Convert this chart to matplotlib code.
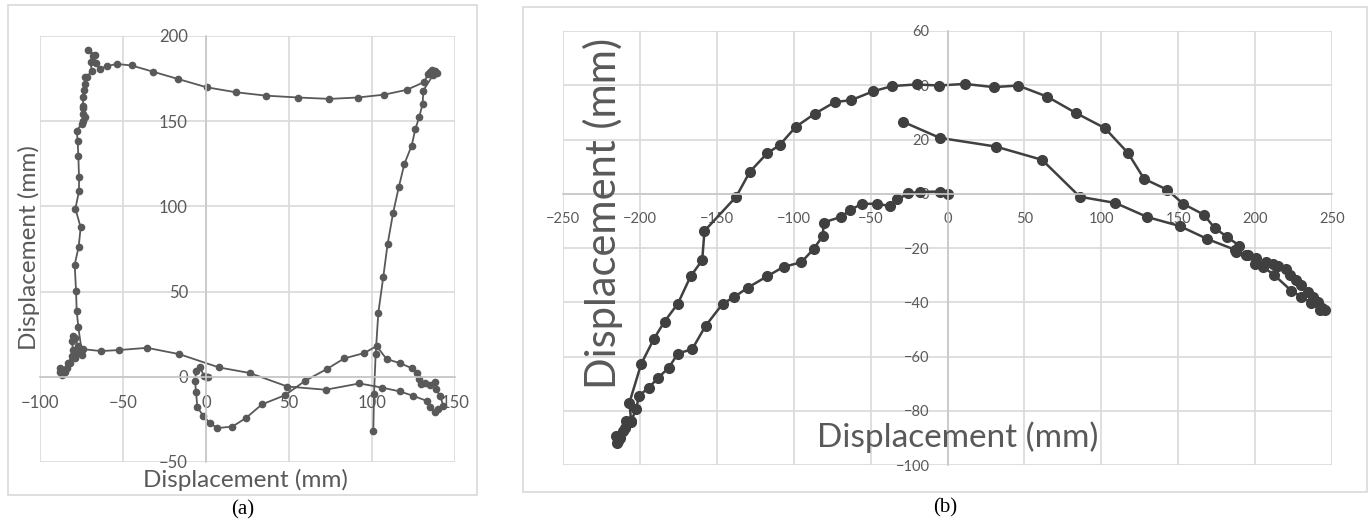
import matplotlib
matplotlib.use("Agg")
import matplotlib.pyplot as plt
from matplotlib.patches import Rectangle

# (a) left panel trajectory
a_x = [1.4, 0.4, -1.2, -3.6, -6.0, -6.6, -6.0, -5.2, -1.6, 2.4, 6.8, 15.9, 23.9, 33.7, 47.6,
       59.8, 72.7, 83.3, 95.2, 102.8, 108.8, 116.9, 124.3, 127.3, 128.5, 129.3, 131.9, 134.9,
       138.0, 138.6, 141.0, 143.0, 140.0, 138.0, 134.9, 132.9, 124.9, 116.9, 105.8, 92.4,
       72.1, 49.0, 26.5, 7.8, -16.1, -35.5, -52.4, -63.3, -73.9, -75.0, -77.0, -79.0, -80.0,
       -81.0, -80.0, -81.0, -83.0, -84.0, -86.0, -88.0, -88.0, -87.0, -85.0, -82.0, -79.0,
       -77.0, -75.0, -76.9, -77.9, -78.3, -79.1, -76.7, -75.5, -78.7, -76.5, -76.5, -76.9,
       -77.3, -77.9, -74.9, -74.3, -72.9, -73.9, -74.3, -73.9, -74.3, -73.5, -72.9, -72.9,
       -71.5, -68.9, -69.5, -66.9, -71.3, -67.9, -66.3, -63.9, -59.8, -53.8, -44.8, -32.1,
       -17.1, 0.4, 17.9, 36.1, 55.6, 74.3, 91.4, 107.4, 120.9, 131.3, 133.9, 134.9, 136.0,
       138.0, 139.0, 137.0, 130.9, 130.5, 128.5, 126.1, 123.9, 119.5, 116.1, 112.7, 109.4,
       106.8, 103.8, 102.2, 101.2, 100.8]
a_y = [-0.4, 0.0, 0.6, 5.5, 3.5, -2.3, -9.2, -18.0, -22.9, -27.2, -30.1, -29.2, -24.3, -16.2,
       -10.8, -2.3, 4.5, 10.8, 13.9, 18.0, 10.4, 8.0, 4.9, 2.0, -1.4, -4.3, -3.9, -4.7, -3.3,
       -7.2, -11.2, -17.0, -19.0, -20.9, -18.0, -14.1, -11.2, -8.6, -6.3, -3.9, -7.6, -5.7,
       2.2, 5.5, 13.3, 17.0, 15.7, 15.1, 16.2, 13.0, 18.0, 23.0, 24.0, 21.0, 16.0, 12.0, 8.0,
       5.0, 4.0, 3.0, 5.0, 1.0, 3.0, 8.0, 11.0, 14.0, 16.0, 29.0, 38.8, 50.5, 65.8, 76.4,
       87.7, 98.7, 108.8, 117.1, 129.4, 138.4, 144.5, 148.4, 150.4, 152.3, 154.3, 157.8,
       159.2, 164.1, 168.4, 171.9, 175.8, 176.2, 179.7, 184.6, 189.1, 191.9, 188.5, 184.0,
       180.7, 182.3, 183.6, 182.7, 179.1, 174.8, 169.9, 167.0, 165.0, 163.9, 163.1, 163.9,
       165.6, 168.4, 172.9, 177.8, 178.7, 180.1, 179.7, 178.3, 177.4, 168.0, 160.1, 152.7,
       145.3, 135.7, 124.9, 111.2, 96.1, 77.9, 58.7, 37.4, 13.3, -10.2, -32.1]

# (b) right panel trajectory
b_x = [0.0, -5.0, -17.6, -25.4, -32.7, -37.7, -45.8, -55.6, -63.3, -69.1, -80.6, -81.0,
       -87.1, -95.1, -106.4, -117.5, -129.8, -138.5, -146.1, -157.3, -166.0, -175.3, -181.2,
       -188.4, -194.2, -200.7, -202.4, -206.0, -211.3, -214.1, -215.0, -214.4, -213.0,
       -215.4, -210.0, -209.0, -205.7, -206.8, -199.2, -191.0, -184.0, -175.3, -167.1,
       -159.5, -158.0, -137.4, -128.5, -117.3, -109.2, -98.6, -86.3, -73.2, -62.7, -48.2,
       -35.9, -20.1, -5.4, 11.3, 30.1, 45.9, 64.8, 83.4, 102.3, 117.4, 127.8, 142.8, 153.2,
       166.6, 173.7, 182.0, 189.6, 187.4, 195.4, 200.8, 199.7, 206.9, 211.7, 214.9, 219.9,
       222.5, 226.8, 230.1, 234.4, 237.7, 240.9, 243.7, 245.2, 242.0, 236.6, 230.1, 223.6,
       212.1, 205.2, 194.3, 186.7, 169.0, 151.0, 130.0, 109.2, 86.0, 61.5, 31.4, -5.0, -29.2]
b_y = [0.0, 0.8, 0.7, 0.1, -2.1, -4.5, -3.7, -3.7, -6.0, -8.5, -10.6, -15.5, -20.4, -25.3,
       -26.9, -30.5, -34.6, -38.0, -40.5, -48.7, -57.3, -58.9, -64.1, -68.0, -71.5, -74.5,
       -79.5, -84.0, -87.4, -89.9, -92.0, -91.1, -90.0, -89.3, -86.2, -83.8, -83.8, -77.0,
       -62.8, -53.6, -47.1, -40.5, -30.5, -24.5, -13.7, -1.1, 8.1, 14.9, 17.9, 24.7, 29.5,
       33.8, 34.5, 37.8, 39.7, 40.3, 39.9, 40.5, 39.3, 39.9, 35.8, 29.8, 24.2, 15.0, 5.5, 1.5,
       -3.7, -7.7, -12.6, -16.0, -19.1, -21.5, -22.7, -23.7, -25.8, -25.2, -25.8, -26.7,
       -27.6, -30.1, -31.9, -33.7, -36.2, -38.0, -39.9, -42.1, -42.7, -42.9, -40.2, -38.0,
       -35.8, -29.8, -27.0, -22.7, -20.6, -16.7, -11.9, -8.6, -3.4, -1.1, 12.5, 17.4, 20.6,
       26.6]

W, H = 1369, 521
fig = plt.figure(figsize=(W / 100, H / 100), dpi=100)
font = ['Lato', 'DejaVu Sans']
gray = '#595959'


def px_axes(x0, y0, x1, y1):
    return fig.add_axes([x0 / W, 1 - y1 / H, (x1 - x0) / W, (y1 - y0) / H])


def style(ax, xlim, ylim, xstep, ystep, fs):
    ax.set_xlim(*xlim)
    ax.set_ylim(*ylim)
    ax.set_xticks(range(xlim[0], xlim[1] + 1, xstep))
    ax.set_yticks(range(ylim[0], ylim[1] + 1, ystep))
    ax.grid(True, color='#d9d9d9', lw=1.2)
    for s in ['top', 'right']:
        ax.spines[s].set_visible(False)
    ax.spines['left'].set_position(('data', 0))
    ax.spines['bottom'].set_position(('data', 0))
    for s in ['left', 'bottom']:
        ax.spines[s].set_color('#c8c8c8')
        ax.spines[s].set_linewidth(1.2)
    ax.tick_params(length=0, pad=13, labelsize=fs, labelcolor=gray)
    for lab in ax.get_xticklabels() + ax.get_yticklabels():
        lab.set_family(font)
    ax.set_axisbelow(True)
    ax.patch.set_alpha(0)


# outer frames
fig.patches.append(Rectangle((8 / W, 1 - 495 / H), 469 / W, 490 / H, transform=fig.transFigure,
                             fill=False, ec='#d9d9d9', lw=1.2))
fig.patches.append(Rectangle((523 / W, 1 - 492 / H), 844 / W, 485 / H, transform=fig.transFigure,
                             fill=False, ec='#d9d9d9', lw=1.2))

ax1 = px_axes(40, 36, 455, 462)
style(ax1, (-100, 150), (-50, 200), 50, 50, 12)
ax1.plot(a_x, a_y, '-o', color=gray, lw=1.3, ms=4.5, clip_on=False)

ax2 = px_axes(563, 31, 1332, 465)
style(ax2, (-250, 250), (-100, 60), 50, 20, 10.5)
ax2.plot(b_x, b_y, '-o', color='#404040', lw=1.8, ms=7, clip_on=False)

# axis titles (Excel style)
fig.text(245 / W, 1 - 480 / H, 'Displacement (mm)', ha='center', va='center', fontsize=17.5,
         color=gray, family=font)
fig.text(29 / W, 1 - 248 / H, 'Displacement (mm)', ha='center', va='center', fontsize=17.5,
         color=gray, family=font, rotation=90)
fig.text(958 / W, 1 - 437 / H, 'Displacement (mm)', ha='center', va='center', fontsize=24,
         color=gray, family=font)
fig.text(603 / W, 1 - 213 / H, 'Displacement (mm)', ha='center', va='center', fontsize=30,
         color=gray, family=font, rotation=90)

fig.text(243 / W, 1 - 510 / H, '(a)', ha='center', va='center', fontsize=15,
         family='Liberation Serif')
fig.text(945 / W, 1 - 508 / H, '(b)', ha='center', va='center', fontsize=15,
         family='Liberation Serif')

fig.savefig('out.png', dpi=100)
